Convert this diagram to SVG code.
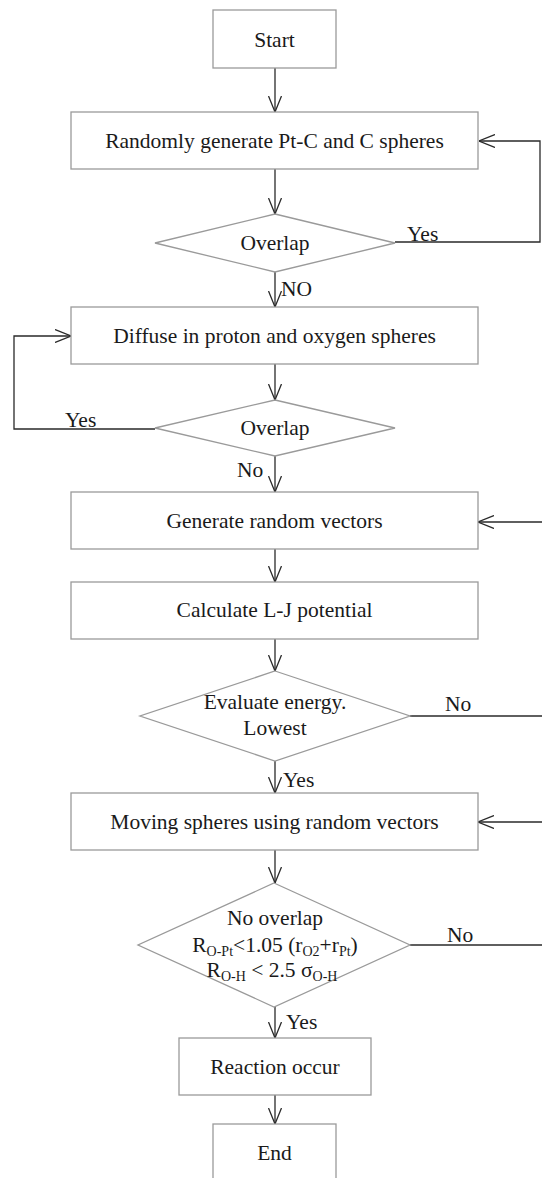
<svg xmlns="http://www.w3.org/2000/svg" width="542" height="1178" viewBox="0 0 542 1178">
<style>
.box{fill:#ffffff;stroke:#9a9a9a;stroke-width:1.3}
.ln{fill:none;stroke:#2a2a2a;stroke-width:1.3}
.t{font-family:"Liberation Serif","Times New Roman",serif;font-size:21.5px;fill:#1a1a1a}
.c{text-anchor:middle}
.s{font-size:14px}
</style>
<defs>
<marker id="arr" viewBox="0 0 16 14" refX="16" refY="7" markerWidth="16" markerHeight="14" markerUnits="userSpaceOnUse" orient="auto">
<path d="M0,0.5 L16,7 L0,13.5" fill="none" stroke="#2a2a2a" stroke-width="1.3"/>
</marker>
</defs>
<rect width="542" height="1178" fill="#ffffff"/>
<g id="connectors">
<line class="ln" x1="275" y1="68" x2="275" y2="112" marker-end="url(#arr)"/>
<line class="ln" x1="275" y1="169" x2="275" y2="214" marker-end="url(#arr)"/>
<polyline class="ln" points="395,242 540,242 540,141 479,141" marker-end="url(#arr)"/>
<line class="ln" x1="275" y1="272" x2="275" y2="307" marker-end="url(#arr)"/>
<line class="ln" x1="275" y1="364" x2="275" y2="400" marker-end="url(#arr)"/>
<polyline class="ln" points="155,429 14,429 14,336 71,336" marker-end="url(#arr)"/>
<line class="ln" x1="275" y1="456" x2="275" y2="492" marker-end="url(#arr)"/>
<line class="ln" x1="542" y1="522" x2="478" y2="522" marker-end="url(#arr)"/>
<line class="ln" x1="275" y1="549" x2="275" y2="582" marker-end="url(#arr)"/>
<line class="ln" x1="275" y1="639" x2="275" y2="671" marker-end="url(#arr)"/>
<line class="ln" x1="410" y1="716" x2="542" y2="716"/>
<line class="ln" x1="275" y1="761" x2="275" y2="793" marker-end="url(#arr)"/>
<line class="ln" x1="542" y1="822" x2="478" y2="822" marker-end="url(#arr)"/>
<line class="ln" x1="275" y1="850" x2="275" y2="883" marker-end="url(#arr)"/>
<line class="ln" x1="410" y1="945" x2="542" y2="945"/>
<line class="ln" x1="275" y1="1007" x2="275" y2="1038" marker-end="url(#arr)"/>
<line class="ln" x1="275" y1="1095" x2="275" y2="1124" marker-end="url(#arr)"/>
<text class="t" x="407" y="241">Yes</text>
<text class="t" x="281" y="296">NO</text>
<text class="t" x="65" y="427">Yes</text>
<text class="t" x="237" y="477">No</text>
<text class="t" x="445" y="711">No</text>
<text class="t" x="283" y="787">Yes</text>
<text class="t" x="447" y="942">No</text>
<text class="t" x="286" y="1029">Yes</text>
</g>
<g id="start">
<rect class="box" x="213" y="10" width="123" height="58"/>
<text class="t c" x="274.5" y="47">Start</text>
</g>
<g id="generate">
<rect class="box" x="71" y="112" width="407" height="57"/>
<text class="t c" x="274.5" y="148">Randomly generate Pt-C and C spheres</text>
</g>
<g id="overlap1">
<polygon class="box" points="275,214 395,243 275,272 155,243"/>
<text class="t c" x="275" y="250">Overlap</text>
</g>
<g id="diffuse">
<rect class="box" x="71" y="307" width="407" height="57"/>
<text class="t c" x="274.5" y="343">Diffuse in proton and oxygen spheres</text>
</g>
<g id="overlap2">
<polygon class="box" points="275,400 395,428 275,456 155,428"/>
<text class="t c" x="275" y="435">Overlap</text>
</g>
<g id="vectors">
<rect class="box" x="71" y="492" width="407" height="57"/>
<text class="t c" x="274.5" y="528">Generate random vectors</text>
</g>
<g id="potential">
<rect class="box" x="71" y="582" width="407" height="57"/>
<text class="t c" x="274.5" y="617">Calculate L-J potential</text>
</g>
<g id="energy">
<polygon class="box" points="275,671 410,716 275,761 140,716"/>
<text class="t c" x="275" y="709">Evaluate energy.</text>
<text class="t c" x="275" y="735">Lowest</text>
</g>
<g id="moving">
<rect class="box" x="71" y="793" width="407" height="57"/>
<text class="t c" x="274.5" y="829">Moving spheres using random vectors</text>
</g>
<g id="condition">
<polygon class="box" points="274,883 410,945 274,1007 138,945"/>
<text class="t c" x="275" y="925">No overlap</text>
<text class="t c" x="275" y="952">R<tspan class="s" dy="4">O-Pt</tspan><tspan dy="-4">&lt;1.05 (r</tspan><tspan class="s" dy="4">O2</tspan><tspan dy="-4">+r</tspan><tspan class="s" dy="4">Pt</tspan><tspan dy="-4">)</tspan></text>
<text class="t c" x="272" y="977">R<tspan class="s" dy="4">O-H</tspan><tspan dy="-4"> &lt; 2.5 σ</tspan><tspan class="s" dy="4">O-H</tspan></text>
</g>
<g id="reaction">
<rect class="box" x="179" y="1038" width="192" height="57"/>
<text class="t c" x="275" y="1074">Reaction occur</text>
</g>
<g id="end">
<rect class="box" x="213" y="1124" width="123" height="57"/>
<text class="t c" x="274.5" y="1160">End</text>
</g>
</svg>
